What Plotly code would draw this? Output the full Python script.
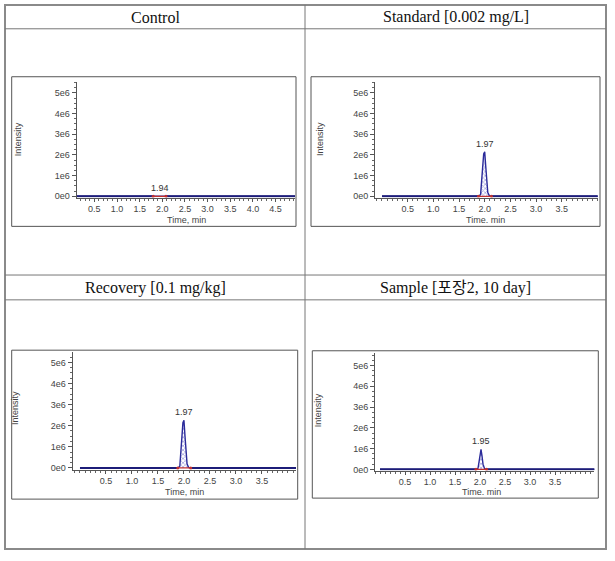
import plotly.graph_objects as go

# ---------------- data ----------------
panel_titles = ["Control", "Standard [0.002 mg/L]", "Recovery [0.1 mg/kg]", "Sample [포장2, 10 day]"]
x_titles = ["Time, min", "Time. min", "Time, min", "Time. min"]
peak_labels = ["1.94", "1.97", "1.97", "1.95"]

y_tickvals = [0, 1e6, 2e6, 3e6, 4e6, 5e6]
y_ticktext = ["0e0", "1e6", "2e6", "3e6", "4e6", "5e6"]
x_tick_long = [0.5, 1.0, 1.5, 2.0, 2.5, 3.0, 3.5, 4.0, 4.5]
x_tick_short = [0.5, 1.0, 1.5, 2.0, 2.5, 3.0, 3.5]

control_time = [0.0, 1.80, 1.88, 1.92, 1.94, 1.96, 2.00, 2.08, 5.0]
control_int = [0, 0, 2000, 6000, 9000, 6000, 2000, 0, 0]

standard_time = [0.0, 1.88, 1.92, 1.94, 1.96, 1.98, 2.00, 2.02, 2.04, 2.06, 2.09, 2.13, 4.3]
standard_int = [0, 0, 0.08e6, 0.60e6, 1.40e6, 2.05e6, 2.15e6, 1.45e6, 0.60e6, 0.18e6, 0.03e6, 0, 0]

recovery_time = [0.0, 1.88, 1.92, 1.94, 1.96, 1.98, 2.00, 2.02, 2.04, 2.06, 2.09, 2.13, 4.3]
recovery_int = [0, 0, 0.08e6, 0.62e6, 1.45e6, 2.15e6, 2.26e6, 1.50e6, 0.62e6, 0.18e6, 0.03e6, 0, 0]

sample_time = [0.0, 1.70, 1.74, 1.77, 1.80, 1.92, 1.96, 1.98, 2.00, 2.02, 2.04, 2.06, 2.09, 2.13, 4.4]
sample_int = [0, 0, 0.02e6, 0.03e6, 0, 0, 0.05e6, 0.35e6, 0.80e6, 0.96e6, 0.65e6, 0.25e6, 0.04e6, 0, 0]

series = [(control_time, control_int), (standard_time, standard_int),
          (recovery_time, recovery_int), (sample_time, sample_int)]

# ---------------- layout geometry (pixels) ----------------
W, H = 615, 561
def px(x):
    return x / W
def py(y):
    return 1 - y / H

panels = [
    dict(ax=(76.7, 295.0, 83.0, 199.0), xr=[0.11, 4.93], yr=[-0.063e6, 5.51e6],
         frame=(11.7, 77.3, 296.0, 228.0), xt=x_tick_long,
         xtitle=(186, 221.7), ytitle=(18.3, 140)),
    dict(ax=(375.0, 597.7, 83.0, 199.0), xr=[-0.136, 4.2], yr=[-0.063e6, 5.51e6],
         frame=(311.0, 77.3, 600.0, 228.0), xt=x_tick_short,
         xtitle=(485, 221.7), ytitle=(320, 140)),
    dict(ax=(72.7, 296.0, 355.0, 473.0), xr=[-0.14, 4.155], yr=[-0.08e6, 5.47e6],
         frame=(11.7, 352.7, 297.7, 502.7), xt=x_tick_short,
         xtitle=(184, 495.7), ytitle=(15, 411)),
    dict(ax=(375.0, 594.3, 356.0, 474.0), xr=[-0.1, 4.286], yr=[-0.06e6, 5.58e6],
         frame=(312.3, 353.3, 598.3, 501.7), xt=x_tick_short,
         xtitle=(481.7, 495.7), ytitle=(318.3, 413)),
]

fig = go.Figure()
sans = "Liberation Sans, DejaVu Sans, sans-serif"
tick_font = dict(family=sans, size=9, color="#444")
layout = dict(width=W, height=H, margin=dict(l=0, r=0, t=0, b=0),
              paper_bgcolor="white", plot_bgcolor="white", showlegend=False)
shapes = []
annotations = []

for i, (p, (t, v)) in enumerate(zip(panels, series)):
    n = "" if i == 0 else str(i + 1)
    xa, ya = "x" + n, "y" + n
    x0, x1, yt, yb = p["ax"]
    layout["xaxis" + n] = dict(
        domain=[px(x0), px(x1)], range=p["xr"], anchor=ya,
        tickmode="array", tickvals=p["xt"], ticktext=["%.1f" % k for k in p["xt"]],
        ticks="outside", ticklen=3, tickcolor="#555", tickfont=tick_font,
        showline=True, linecolor="#555", linewidth=1, showgrid=False, zeroline=False,
        minor=dict(tickmode="linear", tick0=0, dtick=0.1, ticks="outside", ticklen=2, tickcolor="#666"),
        fixedrange=True)
    layout["yaxis" + n] = dict(
        domain=[py(yb), py(yt)], range=p["yr"], anchor=xa,
        tickmode="array", tickvals=y_tickvals, ticktext=y_ticktext,
        ticks="outside", ticklen=4, tickcolor="#555", tickfont=tick_font,
        showline=True, linecolor="#555", linewidth=1, showgrid=False, zeroline=False,
        minor=dict(tickmode="linear", tick0=0, dtick=0.25e6, ticks="outside", ticklen=2, tickcolor="#666"),
        fixedrange=True)

    fig.add_trace(go.Scatter(x=t, y=v, xaxis=xa, yaxis=ya, mode="lines",
                             line=dict(color="#2b2b9a", width=1.4),
                             fill="tozeroy", fillcolor="rgba(255,255,255,0)",
                             fillpattern=dict(shape="x", fgcolor="#5050c0", bgcolor="white",
                                              size=3, solidity=0.45),
                             hoverinfo="skip"))
    k = max(range(len(v)), key=lambda j: v[j])
    s = max(j for j in range(k) if v[j] == 0)
    e = min(j for j in range(k, len(v)) if v[j] == 0)
    fig.add_trace(go.Scatter(x=[t[0], t[s]], y=[0, 0], xaxis=xa, yaxis=ya, mode="lines",
                             line=dict(color="#1c1c78", width=2), hoverinfo="skip"))
    fig.add_trace(go.Scatter(x=[t[e], t[-1]], y=[0, 0], xaxis=xa, yaxis=ya, mode="lines",
                             line=dict(color="#1c1c78", width=2), hoverinfo="skip"))
    fig.add_trace(go.Scatter(x=[t[s], t[e]], y=[0, 0], xaxis=xa, yaxis=ya, mode="lines+markers",
                             line=dict(color="#c03030", width=1.2),
                             marker=dict(color="#c03030", size=3),
                             hoverinfo="skip"))

    annotations.append(dict(x=t[k], y=v[k], xref=xa, yref=ya, text=peak_labels[i],
                            showarrow=False, yanchor="bottom", yshift=1,
                            font=dict(family=sans, size=9, color="#333")))
    annotations.append(dict(x=px(p["xtitle"][0]), y=py(p["xtitle"][1]), xref="paper", yref="paper",
                            text=x_titles[i], showarrow=False, xanchor="center", yanchor="middle",
                            font=dict(family=sans, size=9, color="#444")))
    annotations.append(dict(x=px(p["ytitle"][0]), y=py(p["ytitle"][1]), xref="paper", yref="paper",
                            text="Intensity", showarrow=False, textangle=-90, xanchor="center", yanchor="middle",
                            font=dict(family=sans, size=9, color="#444")))
    fx0, fy0, fx1, fy1 = p["frame"]
    shapes.append(dict(type="rect", xref="paper", yref="paper",
                       x0=px(fx0), x1=px(fx1), y0=py(fy1), y1=py(fy0),
                       line=dict(color="#555", width=1)))

# ---------------- table lines ----------------
TL, TR, TT, TB, TM = 5, 606, 5, 553, 305
row_lines = [29, 277, 302]
shapes.append(dict(type="rect", xref="paper", yref="paper", x0=px(TL), x1=px(TR), y0=py(TB), y1=py(TT),
                   line=dict(color="#8a8a8a", width=2)))
for yy in row_lines:
    shapes.append(dict(type="line", xref="paper", yref="paper", x0=px(TL), x1=px(TR), y0=py(yy), y1=py(yy),
                       line=dict(color="#777", width=1)))
shapes.append(dict(type="line", xref="paper", yref="paper", x0=px(TM), x1=px(TM), y0=py(TB), y1=py(TT),
                   line=dict(color="#777", width=1)))

header_pos = [(155, 17.5), (455.5, 17.5), (155, 290), (455.5, 290)]
for (hx, hy), txt in zip(header_pos, panel_titles):
    annotations.append(dict(x=px(hx), y=py(hy), xref="paper", yref="paper", text=txt,
                            showarrow=False, xanchor="center", yanchor="middle",
                            font=dict(family="Liberation Serif, Noto Sans CJK KR, serif", size=16, color="#111")))

layout["shapes"] = shapes
layout["annotations"] = annotations
fig.update_layout(**layout)
fig.write_html("out.html", config={"displayModeBar": False},
               post_script="document.body.style.margin='0';document.body.style.overflow='hidden';")
